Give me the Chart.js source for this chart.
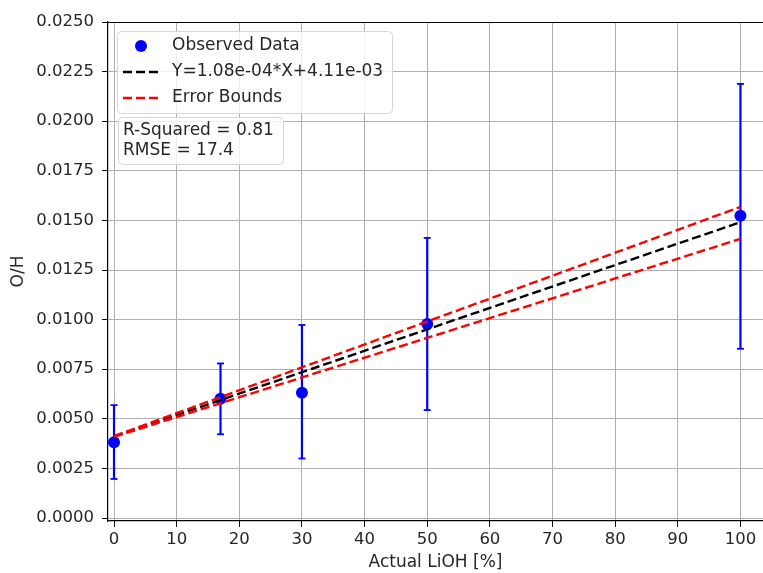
<!DOCTYPE html>
<html>
<head>
<meta charset="utf-8">
<script src="https://cdn.jsdelivr.net/npm/chart.js@4/dist/chart.umd.min.js"></script>
<style>
  html, body { margin: 0; padding: 0; background: #ffffff; overflow: hidden; }
  #wrap { width: 763px; height: 573px; }
  canvas { display: block; }
</style>
</head>
<body>
<div id="wrap"><canvas id="c" width="763" height="573"></canvas></div>
<script>
// ---- data ----
const xValues   = [0, 17, 30, 50, 100];
const yValues   = [0.00382, 0.00601, 0.00631, 0.00978, 0.01524];
const yErrLow   = [0.00197, 0.00422, 0.00300, 0.00544, 0.00853];
const yErrHigh  = [0.00569, 0.00779, 0.00973, 0.01412, 0.02188];
const fitX      = [0, 100];
const fitY      = [0.00411, 0.01491];
const upperY    = [0.00413, 0.01568];
const lowerY    = [0.00409, 0.01407];
const xTicks    = [0, 10, 20, 30, 40, 50, 60, 70, 80, 90, 100];
const yTicks    = [0, 0.0025, 0.005, 0.0075, 0.01, 0.0125, 0.015, 0.0175, 0.02, 0.0225, 0.025];
const legendLabels = ['Observed Data', 'Y=1.08e-04*X+4.11e-03', 'Error Bounds'];
const statsLines = ['R-Squared = 0.81', 'RMSE = 17.4'];
const xTitle = 'Actual LiOH [%]';
const yTitle = 'O/H';

// ---- build datasets ----
const errData = [];
xValues.forEach((x, i) => {
  errData.push({x: x, y: yErrLow[i]});
  errData.push({x: x, y: yErrHigh[i]});
  errData.push({x: x, y: null});
});
const pts = xValues.map((x, i) => ({x: x, y: yValues[i]}));
const fitPts = fitX.map((x, i) => ({x: x, y: fitY[i]}));
const upPts = fitX.map((x, i) => ({x: x, y: upperY[i]}));
const loPts = fitX.map((x, i) => ({x: x, y: lowerY[i]}));

const FONT = "'DejaVu Sans', 'Liberation Sans', sans-serif";
const TXT = '#262626';
const DASH = [9, 4];
Chart.defaults.font.family = FONT;
Chart.defaults.font.size = 16.5;
Chart.defaults.color = TXT;

const overlay = {
  id: 'overlay',
  afterDatasetsDraw(chart) {
    const ctx = chart.ctx;
    const a = chart.chartArea;
    ctx.save();
    // top spine
    ctx.strokeStyle = '#000';
    ctx.lineWidth = 1.2;
    ctx.beginPath();
    ctx.moveTo(a.left, a.top + 0.5);
    ctx.lineTo(a.right, a.top + 0.5);
    ctx.stroke();

    // legend box
    ctx.fillStyle = 'rgba(255,255,255,0.8)';
    ctx.strokeStyle = '#d6d6d6';
    ctx.lineWidth = 1;
    ctx.beginPath();
    ctx.roundRect(117.5, 31.5, 275, 82, 4);
    ctx.fill();
    ctx.stroke();
    // marker
    ctx.fillStyle = '#0000ff';
    ctx.beginPath();
    ctx.arc(141, 46, 6, 0, Math.PI * 2);
    ctx.fill();
    // dashed samples
    ctx.lineWidth = 2.4;
    ctx.setLineDash(DASH);
    ctx.strokeStyle = '#000000';
    ctx.beginPath(); ctx.moveTo(123, 72); ctx.lineTo(158, 72); ctx.stroke();
    ctx.strokeStyle = '#ff0000';
    ctx.beginPath(); ctx.moveTo(123, 98); ctx.lineTo(158, 98); ctx.stroke();
    ctx.setLineDash([]);
    ctx.fillStyle = TXT;
    ctx.font = '17px ' + FONT;
    ctx.textBaseline = 'middle';
    ctx.textAlign = 'left';
    ctx.fillText(legendLabels[0], 172, 46);
    ctx.fillText(legendLabels[1], 172, 72);
    ctx.fillText(legendLabels[2], 172, 98);

    // stats box
    ctx.fillStyle = 'rgba(255,255,255,0.8)';
    ctx.strokeStyle = '#d6d6d6';
    ctx.lineWidth = 1;
    ctx.beginPath();
    ctx.roundRect(118.5, 117.5, 165, 47, 4);
    ctx.fill();
    ctx.stroke();
    ctx.fillStyle = TXT;
    ctx.fillText(statsLines[0], 123, 131);
    ctx.fillText(statsLines[1], 123, 151);
    ctx.restore();
  }
};

new Chart(document.getElementById('c'), {
  type: 'scatter',
  data: {
    datasets: [
      {
        type: 'line',
        data: upPts,
        borderColor: '#ff0000',
        borderWidth: 2.4,
        borderDash: DASH,
        pointRadius: 0,
        fill: false,
        order: 1
      },
      {
        type: 'line',
        data: loPts,
        borderColor: '#ff0000',
        borderWidth: 2.4,
        borderDash: DASH,
        pointRadius: 0,
        fill: false,
        order: 2
      },
      {
        type: 'line',
        data: fitPts,
        borderColor: '#000000',
        borderWidth: 2.4,
        borderDash: DASH,
        pointRadius: 0,
        fill: false,
        order: 3
      },
      {
        type: 'scatter',
        data: pts,
        backgroundColor: '#0000ff',
        borderColor: '#0000ff',
        pointRadius: 6,
        pointBorderWidth: 0,
        order: 4
      },
      {
        type: 'line',
        data: errData,
        borderColor: '#0000ff',
        borderWidth: 2.2,
        spanGaps: false,
        pointStyle: 'line',
        pointRadius: 3.5,
        pointBorderWidth: 1.8,
        pointBorderColor: '#0000ff',
        fill: false,
        order: 5
      }
    ]
  },
  options: {
    responsive: false,
    animation: false,
    devicePixelRatio: 1,
    layout: { autoPadding: false, padding: { top: 22, right: 0, left: 0, bottom: 0 } },
    plugins: { legend: { display: false }, tooltip: { enabled: false } },
    scales: {
      x: {
        type: 'linear',
        min: -0.96,
        max: 103.6,
        afterFit: s => { s.height = 52; s.paddingRight = 0; s.paddingLeft = 0; },
        afterBuildTicks: s => { s.ticks = xTicks.map(v => ({value: v})); },
        ticks: { padding: 3, color: TXT, maxRotation: 0, callback: v => String(v) },
        grid: { color: '#b0b0b0', lineWidth: 1, tickLength: 6, tickColor: '#000', drawTicks: true },
        border: { display: true, color: '#000', width: 1.2 },
        title: { display: true, text: xTitle, color: TXT, font: { size: 17 }, padding: { top: 0, bottom: 0 } }
      },
      y: {
        type: 'linear',
        min: -0.00015,
        max: 0.025,
        afterFit: s => { s.width = 108; },
        afterBuildTicks: s => { s.ticks = yTicks.map(v => ({value: v})); },
        ticks: { padding: 8, color: TXT, callback: v => Number(v).toFixed(4) },
        grid: { color: '#b0b0b0', lineWidth: 1, tickLength: 6, tickColor: '#000', drawTicks: true },
        border: { display: true, color: '#000', width: 1.2 },
        title: { display: true, text: yTitle, color: TXT, font: { size: 17 }, padding: { top: 8, bottom: 0 } }
      }
    }
  },
  plugins: [overlay]
});
</script>
</body>
</html>
